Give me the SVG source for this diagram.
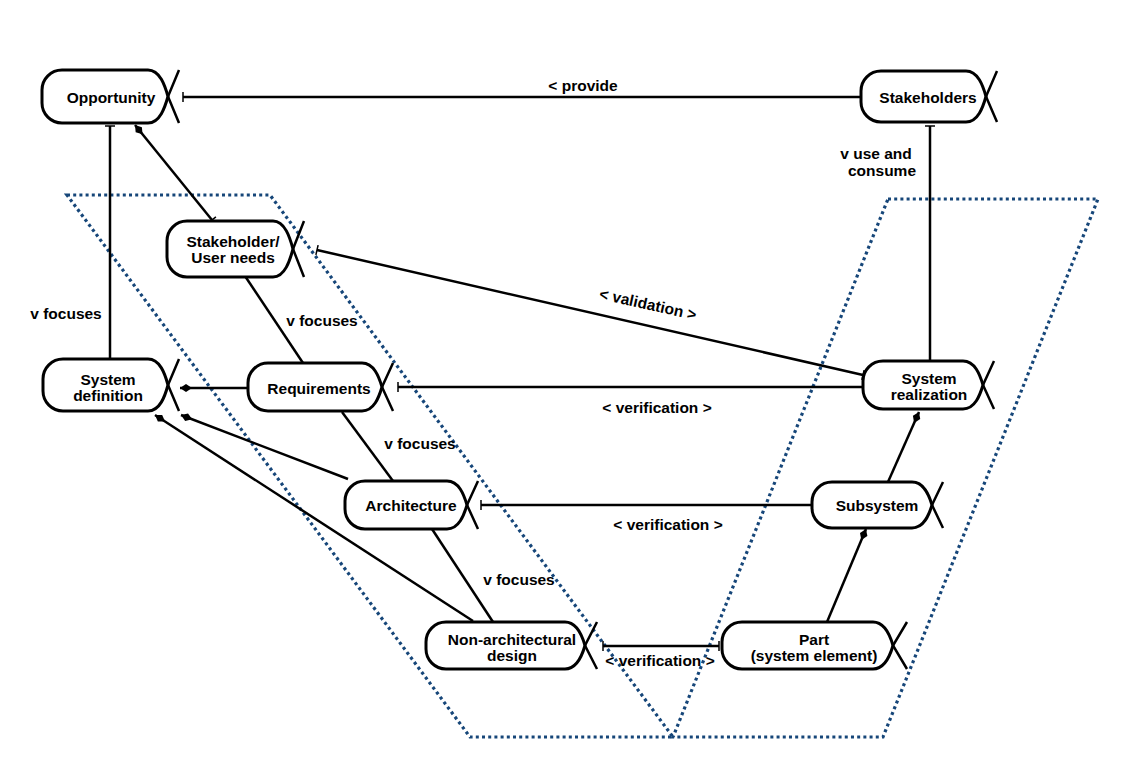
<svg xmlns="http://www.w3.org/2000/svg" width="1142" height="774" viewBox="0 0 1142 774">
<style>
.node{fill:#fff;stroke:#000;stroke-width:3}
.x{fill:none;stroke:#000;stroke-width:2.5}
.t{font-family:"Liberation Sans",Arial,sans-serif;font-weight:bold;font-size:15.5px;fill:#000;text-anchor:middle;dominant-baseline:central}
.c{stroke:#000;stroke-width:2.5;fill:none}
.zone{fill:none;stroke:#164679;stroke-width:3.2;stroke-dasharray:3 3.2}
</style>
<defs>
<marker id="tick" markerUnits="userSpaceOnUse" markerWidth="4" markerHeight="12" refX="2" refY="6" orient="auto" viewBox="0 0 4 12">
<line x1="2" y1="1" x2="2" y2="11" stroke="#000" stroke-width="1.5"/>
</marker>
<marker id="dia" markerUnits="userSpaceOnUse" markerWidth="14" markerHeight="10" refX="13" refY="5" orient="auto" viewBox="0 0 14 10">
<path d="M1,5 L7,1 L13,5 L7,9 Z" fill="#000"/>
</marker>
</defs>
<rect width="1142" height="774" fill="#fff"/>
<g id="zones">
<polygon class="zone" points="67,195 270,195 673,737 470,737"/>
<polygon class="zone" points="888,199 1098,199 883,737 673,737"/>
</g>
<g id="connectors">
<line class="c" x1="183" y1="97" x2="861" y2="97" marker-start="url(#tick)" marker-end="url(#tick)"/>
<line class="c" x1="110" y1="126" x2="110" y2="359" marker-start="url(#tick)" marker-end="url(#tick)"/>
<line class="c" x1="212" y1="220" x2="135" y2="125" marker-start="url(#tick)" marker-end="url(#dia)"/>
<line class="c" x1="930" y1="126" x2="930" y2="361" marker-start="url(#tick)" marker-end="url(#tick)"/>
<line class="c" x1="317" y1="250" x2="863" y2="375" marker-start="url(#tick)" marker-end="url(#tick)"/>
<line class="c" x1="248" y1="388" x2="180" y2="388" marker-end="url(#dia)"/>
<line class="c" x1="398" y1="387" x2="863" y2="387" marker-start="url(#tick)" marker-end="url(#tick)"/>
<line class="c" x1="245" y1="276" x2="303" y2="363"/>
<line class="c" x1="342" y1="412" x2="393" y2="481"/>
<line class="c" x1="348" y1="479" x2="181" y2="415" marker-end="url(#dia)"/>
<line class="c" x1="473" y1="621" x2="155" y2="415" marker-end="url(#dia)"/>
<line class="c" x1="432" y1="529" x2="493" y2="622"/>
<line class="c" x1="481" y1="505" x2="812" y2="505" marker-start="url(#tick)" marker-end="url(#tick)"/>
<line class="c" x1="603" y1="646" x2="719" y2="646" marker-start="url(#tick)" marker-end="url(#tick)"/>
<line class="c" x1="827" y1="622" x2="866" y2="529" marker-end="url(#dia)"/>
<line class="c" x1="888" y1="482" x2="919" y2="412" marker-end="url(#dia)"/>
</g>
<g id="labels">
<text class="t" x="583" y="85">&lt; provide</text>
<text class="t" x="66" y="313">v focuses</text>
<text class="t" x="876" y="153">v use and</text>
<text class="t" x="882" y="170">consume</text>
<text class="t" x="648" y="304" transform="rotate(12.5 648 304)">&lt; validation &gt;</text>
<text class="t" x="322" y="320">v focuses</text>
<text class="t" x="657" y="407">&lt; verification &gt;</text>
<text class="t" x="420" y="443">v focuses</text>
<text class="t" x="668" y="524">&lt; verification &gt;</text>
<text class="t" x="519" y="579">v focuses</text>
<text class="t" x="660" y="660">&lt; verification &gt;</text>
</g>
<g id="opportunity">
<path class="node" d="M148,70 H62 A20 20 0 0 0 42,90 V103 A20 20 0 0 0 62,123 H148 C160,123 165,107 168,96.5 C165,86 160,70 148,70 Z"/>
<polyline class="x" points="179,70 168,96.5 179,123"/>
<text class="t" x="111" y="97">Opportunity</text>
</g>
<g id="stakeholders">
<path class="node" d="M966,71 H881 A20 20 0 0 0 861,91 V102 A20 20 0 0 0 881,122 H966 C978,122 983,107 986,96.5 C983,86 978,71 966,71 Z"/>
<polyline class="x" points="997,71 986,96.5 997,122"/>
<text class="t" x="928" y="97">Stakeholders</text>
</g>
<g id="stakeholder-user-needs">
<path class="node" d="M273,221 H187 A20 20 0 0 0 167,241 V257 A20 20 0 0 0 187,277 H273 C285,277 290,260 293,249 C290,238 285,221 273,221 Z"/>
<polyline class="x" points="304,221 293,249 304,277"/>
<text class="t" x="233" y="241">Stakeholder/</text>
<text class="t" x="233" y="257">User needs</text>
</g>
<g id="system-definition">
<path class="node" d="M148,359 H63 A20 20 0 0 0 43,379 V391 A20 20 0 0 0 63,411 H148 C160,411 165,396 168,385 C165,374 160,359 148,359 Z"/>
<polyline class="x" points="179,359 168,385 179,411"/>
<text class="t" x="108" y="379">System</text>
<text class="t" x="108" y="395">definition</text>
</g>
<g id="requirements">
<path class="node" d="M362,363 H268 A20 20 0 0 0 248,383 V391 A20 20 0 0 0 268,411 H362 C374,411 379,397 382,387 C379,377 374,363 362,363 Z"/>
<polyline class="x" points="393,363 382,387 393,411"/>
<text class="t" x="319" y="388">Requirements</text>
</g>
<g id="architecture">
<path class="node" d="M447,481 H365 A20 20 0 0 0 345,501 V509 A20 20 0 0 0 365,529 H447 C459,529 464,515 467,505 C464,495 459,481 447,481 Z"/>
<polyline class="x" points="478,481 467,505 478,529"/>
<text class="t" x="411" y="505">Architecture</text>
</g>
<g id="non-architectural-design">
<path class="node" d="M565,622 H446 A20 20 0 0 0 426,642 V649 A20 20 0 0 0 446,669 H565 C577,669 582,656 585,645.5 C582,635 577,622 565,622 Z"/>
<polyline class="x" points="597,622 585,645.5 597,669"/>
<text class="t" x="512" y="639">Non-architectural</text>
<text class="t" x="512" y="655">design</text>
</g>
<g id="part">
<path class="node" d="M873,622 H742 A20 20 0 0 0 722,642 V649 A20 20 0 0 0 742,669 H873 C885,669 890,656 893,645.5 C890,635 885,622 873,622 Z"/>
<polyline class="x" points="907,622 893,645.5 907,669"/>
<text class="t" x="814" y="639">Part</text>
<text class="t" x="814" y="655">(system element)</text>
</g>
<g id="system-realization">
<path class="node" d="M963,361 H883 A20 20 0 0 0 863,381 V389 A20 20 0 0 0 883,409 H963 C975,409 980,395 983,385 C980,375 975,361 963,361 Z"/>
<polyline class="x" points="994,361 983,385 994,409"/>
<text class="t" x="929" y="378">System</text>
<text class="t" x="929" y="394">realization</text>
</g>
<g id="subsystem">
<path class="node" d="M912,482 H832 A20 20 0 0 0 812,502 V508 A20 20 0 0 0 832,528 H912 C924,528 929,515 932,505 C929,495 924,482 912,482 Z"/>
<polyline class="x" points="943,482 932,505 943,528"/>
<text class="t" x="877" y="505">Subsystem</text>
</g>
</svg>
